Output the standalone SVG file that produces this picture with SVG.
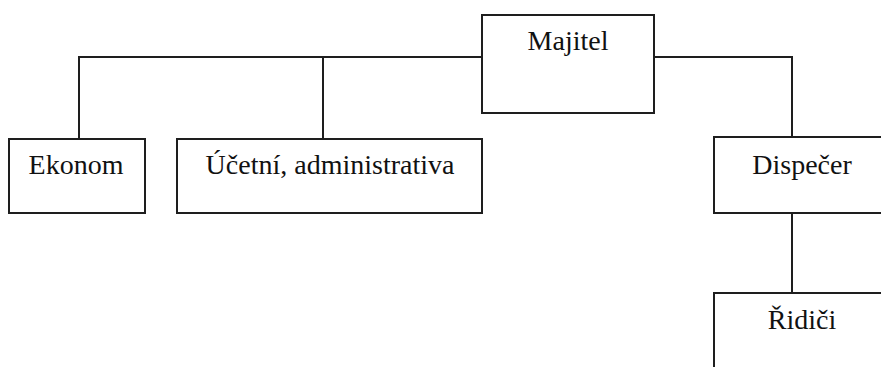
<svg xmlns="http://www.w3.org/2000/svg" width="881" height="367" viewBox="0 0 881 367">
<style>
.box{fill:#fff;stroke:#1e1e1e;stroke-width:2}
.ln{fill:none;stroke:#1e1e1e;stroke-width:2}
.t{font-size:28px;fill:#111;text-anchor:middle}
</style>
<rect width="881" height="367" fill="#fff"/>
<g id="connectors">
<path class="ln" d="M482 57H79V139"/>
<path class="ln" d="M323 57V139"/>
<path class="ln" d="M654 57H792V137"/>
<path class="ln" d="M792 213V293"/>
</g>
<g font-family="'Liberation Serif', 'Times New Roman', 'DejaVu Serif', serif">
<g id="majitel"><rect class="box" x="482" y="15" width="172" height="98"/><text class="t" x="568" y="50">Majitel</text></g>
<g id="ekonom"><rect class="box" x="9" y="139" width="136" height="74"/><text class="t" x="76" y="174">Ekonom</text></g>
<g id="ucetni"><rect class="box" x="177" y="139" width="305" height="74"/><text class="t" x="330" y="174">Účetní, administrativa</text></g>
<g id="dispecer"><rect class="box" x="714" y="137" width="180" height="76"/><text class="t" x="802" y="174">Dispečer</text></g>
<g id="ridici"><rect class="box" x="714" y="293" width="180" height="90"/><text class="t" x="802" y="329">Řidiči</text></g>
</g>
</svg>
